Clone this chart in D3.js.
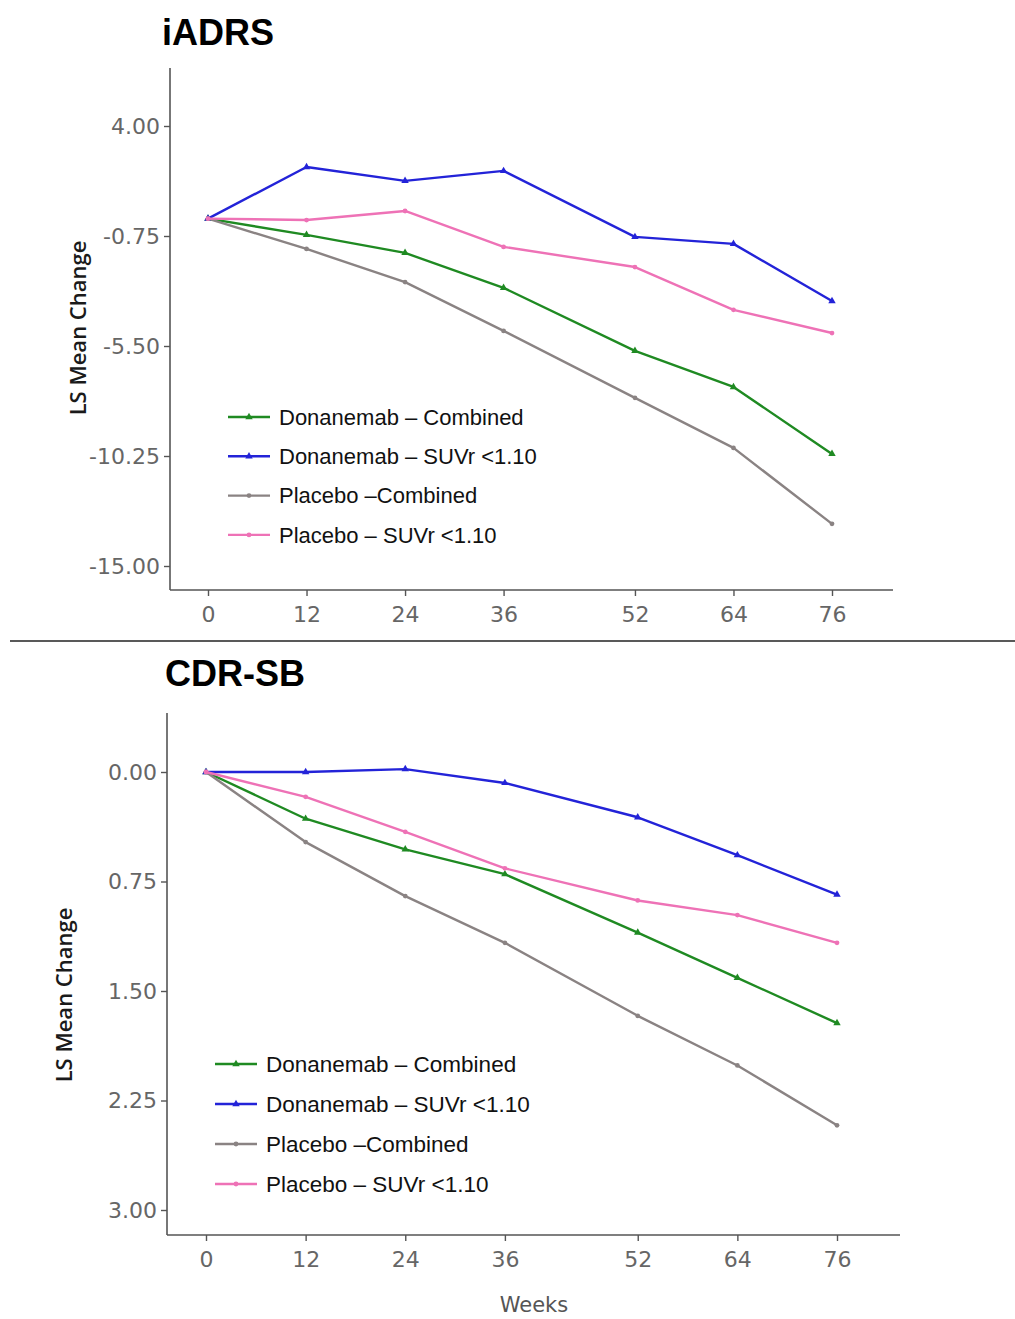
<!DOCTYPE html>
<html>
<head>
<meta charset="utf-8">
<script src="https://cdn.jsdelivr.net/npm/d3@7"></script>
<style>
  html, body { margin: 0; padding: 0; background: #fff; }
  svg { display: block; }
</style>
</head>
<body>
<svg id="chart" width="1015" height="1319"></svg>
<script>
// Visit weeks shared by both outcomes
const weeks = [0, 12, 24, 36, 52, 64, 76];

// Series names and colours
const seriesNames = ["Donanemab \u2013 Combined", "Donanemab \u2013 SUVr <1.10", "Placebo \u2013Combined", "Placebo \u2013 SUVr <1.10"];
const seriesColors = ["#1f8a22", "#2323d8", "#8a8383", "#ee72b6"];
const seriesMarkers = ["triangle", "triangle", "circle", "circle"];

// iADRS least-squares mean change from baseline
const iadrsDonaCombined = [0, -0.70, -1.48, -2.99, -5.71, -7.27, -10.16];
const iadrsDonaSuvr = [0, 2.23, 1.63, 2.06, -0.79, -1.09, -3.56];
const iadrsPlaceboCombined = [0, -1.31, -2.74, -4.85, -7.74, -9.90, -13.18];
const iadrsPlaceboSuvr = [0, -0.06, 0.33, -1.22, -2.09, -3.94, -4.94];
const iadrsTicks = [4.00, -0.75, -5.50, -10.25, -15.00];

// CDR-SB least-squares mean change from baseline
const cdrDonaCombined = [0, 0.32, 0.53, 0.70, 1.10, 1.41, 1.72];
const cdrDonaSuvr = [0, 0.00, -0.02, 0.075, 0.31, 0.57, 0.84];
const cdrPlaceboCombined = [0, 0.48, 0.85, 1.17, 1.67, 2.01, 2.42];
const cdrPlaceboSuvr = [0, 0.17, 0.41, 0.66, 0.88, 0.98, 1.17];
const cdrTicks = [0.00, 0.75, 1.50, 2.25, 3.00];

const svg = d3.select("#chart");
// plain hyphen for negative tick values
const fmt = d => d3.format(".2f")(d).replace("\u2212", "-");

function panel(cfg) {
  const g = svg.append("g");
  const x = d3.scaleLinear().domain([0, 76]).range(cfg.xRange);
  const y = d3.scaleLinear().domain(cfg.yDomain).range(cfg.yRange);

  // title
  g.append("text")
    .attr("x", cfg.titleX).attr("y", cfg.titleY)
    .attr("font-family", "Liberation Sans, Arial, sans-serif")
    .attr("font-weight", "bold").attr("font-size", 36)
    .attr("fill", "#000").text(cfg.title);

  // axis lines
  g.append("line")
    .attr("x1", cfg.axisX).attr("x2", cfg.axisX)
    .attr("y1", cfg.axisTop).attr("y2", cfg.axisY)
    .attr("stroke", "#555").attr("stroke-width", 1.6);
  g.append("line")
    .attr("x1", cfg.axisX).attr("x2", cfg.axisRight)
    .attr("y1", cfg.axisY).attr("y2", cfg.axisY)
    .attr("stroke", "#555").attr("stroke-width", 1.6);

  // y axis ticks
  const yAxis = d3.axisLeft(y).tickValues(cfg.yTicks)
    .tickFormat(fmt).tickSize(6).tickPadding(4);
  const ya = g.append("g").attr("transform", `translate(${cfg.axisX},0)`).call(yAxis);
  ya.select(".domain").remove();
  ya.selectAll(".tick line").attr("stroke", "#555").attr("stroke-width", 1.4);
  ya.selectAll(".tick text")
    .attr("font-family", "DejaVu Sans, Verdana, sans-serif").attr("font-size", 22).attr("fill", "#666");

  // x axis ticks
  const xAxis = d3.axisBottom(x).tickValues(weeks).tickSize(6).tickPadding(10);
  const xa = g.append("g").attr("transform", `translate(0,${cfg.axisY})`).call(xAxis);
  xa.select(".domain").remove();
  xa.selectAll(".tick line").attr("stroke", "#555").attr("stroke-width", 1.4);
  xa.selectAll(".tick text")
    .attr("font-family", "DejaVu Sans, Verdana, sans-serif").attr("font-size", 22).attr("fill", "#666");

  // y axis label
  g.append("text")
    .attr("transform", `translate(${cfg.yLabelX},${cfg.yLabelY}) rotate(-90)`)
    .attr("text-anchor", "middle").attr("dy", "0.35em")
    .attr("font-family", "Open Sans, sans-serif").attr("font-weight", 600)
    .attr("font-size", 22).attr("fill", "#1a1a1a").text("LS Mean Change");

  // series lines and markers
  const line = d3.line().x((d, i) => x(weeks[i])).y(d => y(d));
  const tri = d3.symbol().type(d3.symbolTriangle).size(24);
  const circ = d3.symbol().type(d3.symbolCircle).size(18);
  cfg.series.forEach((vals, k) => {
    g.append("path").datum(vals)
      .attr("d", line).attr("fill", "none")
      .attr("stroke", seriesColors[k]).attr("stroke-width", 2.4)
      .attr("stroke-linejoin", "round");
    g.selectAll(null).data(vals).enter().append("path")
      .attr("transform", (d, i) => `translate(${x(weeks[i])},${y(d)})`)
      .attr("d", seriesMarkers[k] === "triangle" ? tri : circ)
      .attr("fill", seriesColors[k]);
  });

  // legend
  seriesNames.forEach((name, k) => {
    const ly = cfg.legendY + k * cfg.legendStep;
    g.append("line")
      .attr("x1", cfg.legendX).attr("x2", cfg.legendX + 42)
      .attr("y1", ly).attr("y2", ly)
      .attr("stroke", seriesColors[k]).attr("stroke-width", 2.4);
    g.append("path")
      .attr("transform", `translate(${cfg.legendX + 21},${ly})`)
      .attr("d", seriesMarkers[k] === "triangle" ? tri : circ)
      .attr("fill", seriesColors[k]);
    g.append("text")
      .attr("x", cfg.legendX + 51).attr("y", ly).attr("dy", "0.35em")
      .attr("font-family", "Liberation Sans, Arial, sans-serif").attr("font-size", cfg.legendSize)
      .attr("fill", "#111").text(name);
  });
}

panel({
  title: "iADRS", titleX: 162, titleY: 45,
  xRange: [208, 832], yDomain: [4, -15], yRange: [126, 566],
  axisX: 170, axisTop: 68, axisY: 590, axisRight: 893,
  yTicks: iadrsTicks,
  yLabelX: 78, yLabelY: 328,
  series: [iadrsDonaCombined, iadrsDonaSuvr, iadrsPlaceboCombined, iadrsPlaceboSuvr],
  legendX: 228, legendY: 417, legendStep: 39.3, legendSize: 22
});

// separator between the two panels
svg.append("line")
  .attr("x1", 10).attr("x2", 1015).attr("y1", 641).attr("y2", 641)
  .attr("stroke", "#222").attr("stroke-width", 1.6);

panel({
  title: "CDR-SB", titleX: 165, titleY: 686,
  xRange: [206, 837], yDomain: [0, 3], yRange: [772, 1210],
  axisX: 167, axisTop: 713, axisY: 1235, axisRight: 900,
  yTicks: cdrTicks,
  yLabelX: 64, yLabelY: 995,
  series: [cdrDonaCombined, cdrDonaSuvr, cdrPlaceboCombined, cdrPlaceboSuvr],
  legendX: 215, legendY: 1064, legendStep: 40, legendSize: 22.5
});

// x axis title
svg.append("text")
  .attr("x", 534).attr("y", 1312).attr("text-anchor", "middle")
  .attr("font-family", "DejaVu Sans, Verdana, sans-serif")
  .attr("font-size", 21).attr("fill", "#555").text("Weeks");
</script>
</body>
</html>
